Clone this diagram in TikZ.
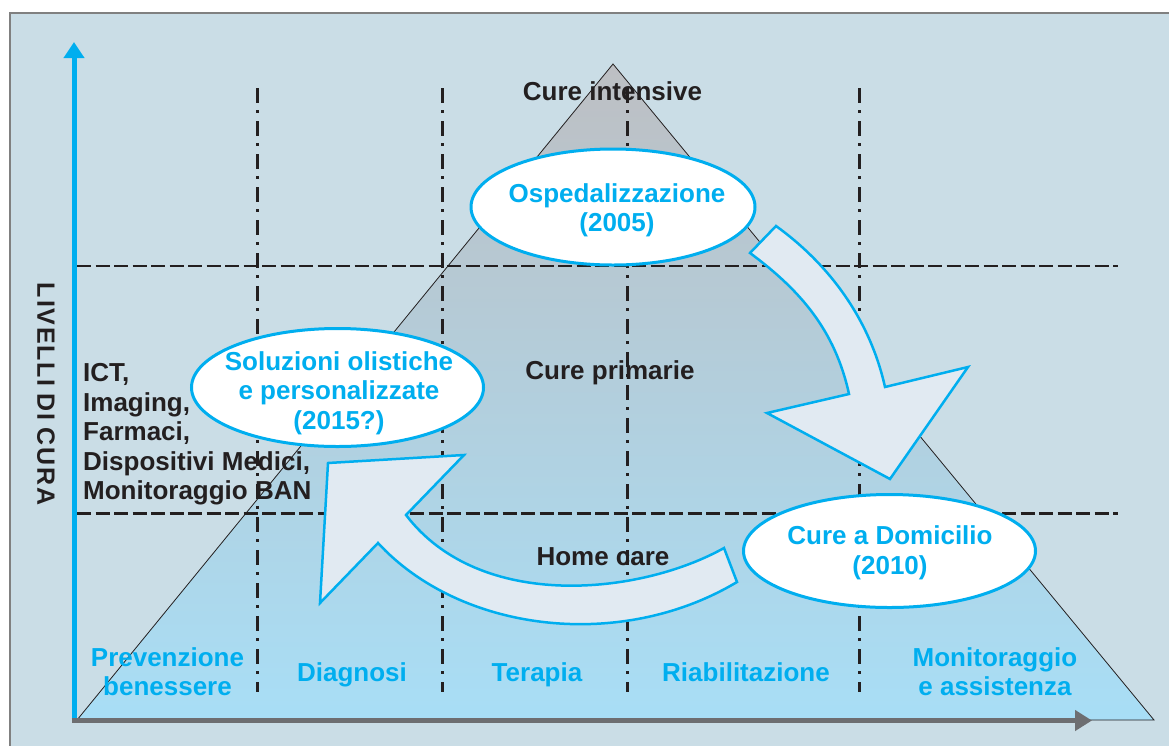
\documentclass[tikz,border=0pt]{standalone}
\usepackage{fontspec}
\setmainfont{Liberation Sans}
\usetikzlibrary{shapes.geometric,arrows.meta}
\definecolor{bgc}{RGB}{202,221,230}
\definecolor{cy}{RGB}{0,174,239}
\definecolor{ink}{RGB}{35,31,32}
\definecolor{axg}{RGB}{109,110,113}
\definecolor{arrf}{RGB}{225,234,242}
\definecolor{trtop}{RGB}{189,191,195}
\definecolor{trmid}{RGB}{181,205,218}
\definecolor{trbot}{RGB}{168,222,246}
\definecolor{frameg}{RGB}{128,128,128}
\newcommand\lspc{\kern1.8pt}
\begin{document}
\begin{tikzpicture}[x=1pt,y=-1pt,
  lbl/.style={font=\bfseries\fontsize{26}{29.5}\selectfont, text=ink, inner sep=0pt},
  bluelbl/.style={lbl, text=cy, align=center},
  bubble/.style={ellipse, draw=cy, line width=3pt, fill=white, inner sep=0pt},
  bubtext/.style={font=\bfseries\fontsize{26}{29.5}\selectfont, text=cy, align=center, inner sep=0pt},
  bigarrow/.style={draw=cy, fill=arrf, line width=2.5pt, line join=miter},
  hgrid/.style={draw=ink, line width=2.8pt, dash pattern=on 14pt off 4.5pt},
  vgrid/.style={draw=ink, line width=2.6pt, dash pattern=on 15pt off 7pt on 3pt off 8pt},
]
\useasboundingbox (0,0) rectangle (1169,745);
\clip (0,0) rectangle (1169,745);
\fill[white] (0,0) rectangle (1169,745);
% frame
\fill[bgc] (10,13) rectangle (1190,760);
\draw[frameg, line width=1.6pt] (10,760) -- (10,13) -- (1190,13);
% pyramid
\shade[top color=trtop, middle color=trmid, bottom color=trbot] (613,64) -- (1154,720) -- (77,720) -- cycle;
\draw[ink, line width=0.8pt, line join=miter] (613,64) -- (1154,720) -- (77,720) -- cycle;
% grid
\foreach \y in {266,513.5} \draw[hgrid] (77,\y) -- (1118,\y);
\foreach \x in {257.5,442.7,627.3,859.5} \draw[vgrid] (\x,88) -- (\x,692);
% axes
\coordinate (origin) at (74,720.5);
\coordinate (ytip) at (74,42);
\coordinate (xtip) at (1092,720.5);
\draw[cy, line width=5pt, -{Triangle[length=16pt,width=20pt]}] (74,722) -- (ytip);
\draw[axg, line width=5pt, -{Triangle[length=17pt,width=20pt]}] (71.5,720.5) -- (xtip);
% labels
\node[lbl, anchor=base] (ci) at (612.5,100.5) {Cure intensive};
\node[lbl, anchor=base] (cp) at (610,379) {Cure primarie};
\node[lbl, anchor=base] (hc) at (603,565) {Home care};
\node[lbl, anchor=west, align=left] (ict) at (83,434.5) {ICT,\\Imaging,\\Farmaci,\\Dispositivi Medici,\\Monitoraggio BAN};
\node[lbl, rotate=-90, font=\bfseries\fontsize{25}{25}\selectfont] (liv) at (46,394) {L\lspc I\lspc V\lspc E\lspc L\lspc L\lspc I\ D\lspc I\ C\lspc U\lspc R\lspc A};
\node[bluelbl] (prev) at (167.5,671.7) {Prevenzione\\benessere};
\node[bluelbl, anchor=base] (diag) at (352,681) {Diagnosi};
\node[bluelbl, anchor=base] (ter) at (537,681) {Terapia};
\node[bluelbl, anchor=base] (riab) at (746,681) {Riabilitazione};
\node[bluelbl] (mon) at (995,671.7) {Monitoraggio\\e assistenza};
% big curved arrows
\draw[bigarrow] (776,226) .. controls (830,265) and (870,320) .. (885,387) -- (968,367) -- (890,479) -- (767,413) -- (849,394) .. controls (835,330) and (800,290) .. (750,253) -- cycle;
\draw[bigarrow] (724,548) .. controls (640,595) and (480,612) .. (406,515) -- (464,455) -- (328,463) -- (320,603) -- (378,543) .. controls (460,632) and (620,652) .. (737,582) -- cycle;
% bubbles
\node[bubble, minimum width=284pt, minimum height=116pt] (osp) at (613,207) {};
\node[bubtext] (osptxt) at (617,210.5) {Ospedalizzazione\\(2005)};
\node[bubble, minimum width=292pt, minimum height=118pt] (sol) at (337.5,387.5) {};
\node[bubtext] (soltxt) at (339,393) {Soluzioni olistiche\\e personalizzate\\(2015?)};
\node[bubble, minimum width=292pt, minimum height=113pt] (dom) at (889.5,551) {};
\node[bubtext] (domtxt) at (890,553) {Cure a Domicilio\\(2010)};
\end{tikzpicture}
\end{document}
